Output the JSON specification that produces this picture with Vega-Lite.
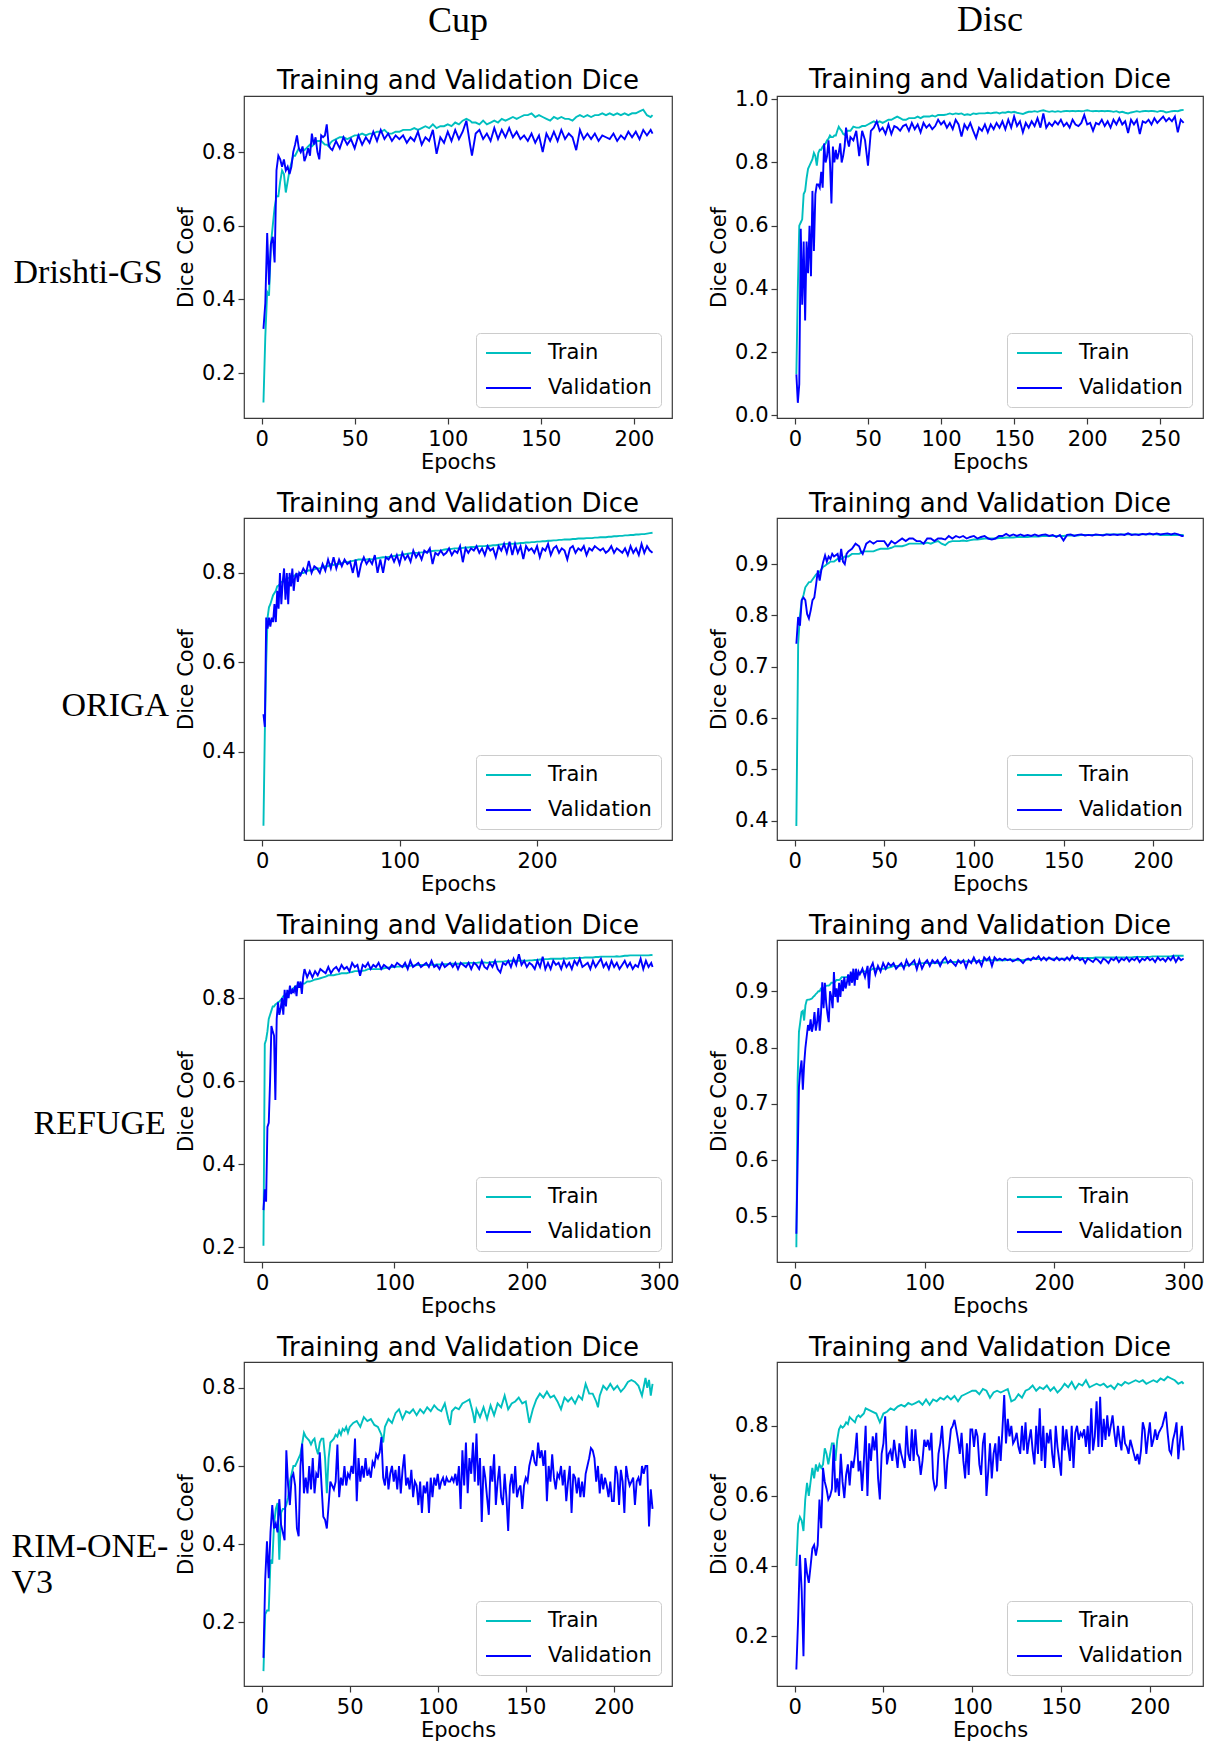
{
"$schema":"https://vega.github.io/schema/vega-lite/v6.json",
"autosize":{"type":"none"},
"padding":{"left":244,"top":96,"right":972,"bottom":1648},
"background":"white",
"config":{
"font":"DejaVu Sans",
"view":{"stroke":"#3a3a3a","strokeWidth":1.2},
"axis":{"domain":false,"grid":false,"labelFont":"DejaVu Sans","labelFontSize":21,"labelColor":"#000","titleFont":"DejaVu Sans","titleFontSize":21,"titleFontWeight":"normal","titleColor":"#000","tickColor":"#3a3a3a","tickSize":6,"tickWidth":1.2,"labelPadding":3,"labelFlush":false},
"axisX":{"titlePadding":2,"labelPadding":4},
"axisY":{"titlePadding":5},
"legend":{"orient":"bottom-right","offset":11,"padding":9,"fillColor":"white","strokeColor":"#cccccc","cornerRadius":4,"symbolType":"M-1,0H3.5","symbolSize":400,"symbolStrokeWidth":2,"labelFont":"DejaVu Sans","labelFontSize":21,"labelColor":"#000","labelOffset":41,"rowPadding":14,"title":null},
"title":{"font":"DejaVu Sans","fontSize":26,"fontWeight":"normal","color":"#000","offset":1,"anchor":"middle","frame":"group"}
},
"datasets":{
"p1":[
{"e":1,"Train":0.12,"Validation":0.32},{"e":2,"Train":0.30,"Validation":0.39},{"e":3,"Train":0.42,"Validation":0.58},{"e":4,"Train":0.41,"Validation":0.44},{"e":5,"Train":0.55,"Validation":0.55},{"e":6,"Train":0.60,"Validation":0.57},{"e":7,"Train":0.65,"Validation":0.50},{"e":8,"Train":0.68,"Validation":0.75},{"e":9,"Train":0.68,"Validation":0.79},{"e":10,"Train":0.72,"Validation":0.78},
{"e":11,"Train":0.75,"Validation":0.76},{"e":12,"Train":0.74,"Validation":0.78},{"e":13,"Train":0.69,"Validation":0.75},{"e":14,"Train":0.72,"Validation":0.76},{"e":15,"Train":0.75,"Validation":0.74},{"e":16,"Train":0.77,"Validation":0.76},{"e":17,"Train":0.79,"Validation":0.80},{"e":18,"Train":0.79,"Validation":0.82},{"e":19,"Train":0.80,"Validation":0.845},{"e":20,"Train":0.81,"Validation":0.81},
{"e":21,"Train":0.80,"Validation":0.80},{"e":22,"Train":0.81,"Validation":0.815},{"e":23,"Train":0.805,"Validation":0.775},{"e":24,"Train":0.81,"Validation":0.79},{"e":25,"Train":0.815,"Validation":0.81},{"e":26,"Train":0.82,"Validation":0.79},{"e":27,"Train":0.815,"Validation":0.85},{"e":28,"Train":0.82,"Validation":0.82},{"e":29,"Train":0.825,"Validation":0.84},{"e":30,"Train":0.83,"Validation":0.80},
{"e":31,"Train":0.83,"Validation":0.78},{"e":32,"Train":0.83,"Validation":0.845},{"e":33,"Train":0.825,"Validation":0.84},{"e":34,"Train":0.82,"Validation":0.845},{"e":35,"Train":0.82,"Validation":0.875},{"e":36,"Train":0.815,"Validation":0.82},{"e":37,"Train":0.825,"Validation":0.81},{"e":38,"Train":0.83,"Validation":0.805},
{"e":40,"Train":0.835,"Validation":0.83},{"e":42,"Train":0.84,"Validation":0.81},{"e":44,"Train":0.84,"Validation":0.84},{"e":46,"Train":0.835,"Validation":0.82},{"e":48,"Train":0.84,"Validation":0.835},{"e":50,"Train":0.845,"Validation":0.81},{"e":52,"Train":0.845,"Validation":0.845},{"e":54,"Train":0.85,"Validation":0.82},{"e":56,"Train":0.845,"Validation":0.84},{"e":58,"Train":0.85,"Validation":0.825},
{"e":60,"Train":0.85,"Validation":0.855},{"e":62,"Train":0.855,"Validation":0.83},{"e":64,"Train":0.855,"Validation":0.86},{"e":66,"Train":0.86,"Validation":0.835},{"e":68,"Train":0.85,"Validation":0.85},{"e":70,"Train":0.85,"Validation":0.83},{"e":72,"Train":0.855,"Validation":0.845},{"e":74,"Train":0.855,"Validation":0.835},{"e":76,"Train":0.86,"Validation":0.845},{"e":78,"Train":0.86,"Validation":0.825},
{"e":80,"Train":0.86,"Validation":0.84},{"e":82,"Train":0.865,"Validation":0.83},{"e":84,"Train":0.86,"Validation":0.855},{"e":86,"Train":0.865,"Validation":0.82},{"e":88,"Train":0.87,"Validation":0.84},{"e":90,"Train":0.865,"Validation":0.83},{"e":92,"Train":0.875,"Validation":0.86},{"e":94,"Train":0.865,"Validation":0.795},{"e":96,"Train":0.87,"Validation":0.84},{"e":98,"Train":0.87,"Validation":0.825},
{"e":100,"Train":0.875,"Validation":0.855},{"e":102,"Train":0.87,"Validation":0.83},{"e":104,"Train":0.88,"Validation":0.86},{"e":106,"Train":0.875,"Validation":0.835},{"e":108,"Train":0.885,"Validation":0.855},{"e":110,"Train":0.89,"Validation":0.885},{"e":112,"Train":0.885,"Validation":0.82},{"e":113,"Train":0.88,"Validation":0.79},{"e":115,"Train":0.88,"Validation":0.85},{"e":117,"Train":0.875,"Validation":0.86},
{"e":119,"Train":0.885,"Validation":0.835},{"e":121,"Train":0.875,"Validation":0.85},{"e":123,"Train":0.88,"Validation":0.83},{"e":125,"Train":0.885,"Validation":0.865},{"e":127,"Train":0.88,"Validation":0.835},{"e":129,"Train":0.89,"Validation":0.86},{"e":131,"Train":0.885,"Validation":0.84},{"e":133,"Train":0.89,"Validation":0.865},{"e":135,"Train":0.895,"Validation":0.84},{"e":137,"Train":0.89,"Validation":0.855},
{"e":139,"Train":0.895,"Validation":0.835},{"e":141,"Train":0.9,"Validation":0.845},{"e":143,"Train":0.9,"Validation":0.83},{"e":145,"Train":0.905,"Validation":0.85},{"e":147,"Train":0.895,"Validation":0.825},{"e":149,"Train":0.9,"Validation":0.845},{"e":151,"Train":0.895,"Validation":0.80},{"e":153,"Train":0.89,"Validation":0.85},{"e":155,"Train":0.885,"Validation":0.83},{"e":157,"Train":0.895,"Validation":0.855},
{"e":159,"Train":0.89,"Validation":0.83},{"e":161,"Train":0.895,"Validation":0.86},{"e":163,"Train":0.89,"Validation":0.835},{"e":165,"Train":0.89,"Validation":0.85},{"e":167,"Train":0.885,"Validation":0.84},{"e":169,"Train":0.895,"Validation":0.805},{"e":171,"Train":0.9,"Validation":0.86},{"e":173,"Train":0.895,"Validation":0.835},{"e":175,"Train":0.9,"Validation":0.85},{"e":177,"Train":0.895,"Validation":0.835},
{"e":179,"Train":0.9,"Validation":0.85},{"e":181,"Train":0.9,"Validation":0.83},{"e":183,"Train":0.905,"Validation":0.845},{"e":185,"Train":0.9,"Validation":0.84},{"e":187,"Train":0.905,"Validation":0.835},{"e":189,"Train":0.9,"Validation":0.85},{"e":191,"Train":0.905,"Validation":0.83},{"e":193,"Train":0.9,"Validation":0.845},{"e":195,"Train":0.905,"Validation":0.835},{"e":197,"Train":0.9,"Validation":0.855},
{"e":199,"Train":0.905,"Validation":0.84},{"e":201,"Train":0.905,"Validation":0.855},{"e":203,"Train":0.91,"Validation":0.835},{"e":205,"Train":0.915,"Validation":0.86},{"e":207,"Train":0.9,"Validation":0.845},{"e":209,"Train":0.895,"Validation":0.86},{"e":210,"Train":0.9,"Validation":0.85}
],
"p2":[
{"e":1,"Train":0.13,"Validation":0.13},{"e":2,"Train":0.40,"Validation":0.04},{"e":3,"Train":0.60,"Validation":0.10},{"e":4,"Train":0.61,"Validation":0.59},{"e":5,"Train":0.62,"Validation":0.35},{"e":6,"Train":0.70,"Validation":0.55},{"e":7,"Train":0.71,"Validation":0.30},{"e":8,"Train":0.75,"Validation":0.55},{"e":9,"Train":0.78,"Validation":0.45},{"e":10,"Train":0.79,"Validation":0.60},
{"e":11,"Train":0.80,"Validation":0.44},{"e":12,"Train":0.81,"Validation":0.71},{"e":13,"Train":0.83,"Validation":0.52},{"e":14,"Train":0.82,"Validation":0.70},{"e":15,"Train":0.79,"Validation":0.73},{"e":16,"Train":0.83,"Validation":0.73},{"e":17,"Train":0.84,"Validation":0.72},{"e":18,"Train":0.84,"Validation":0.77},{"e":19,"Train":0.85,"Validation":0.72},{"e":20,"Train":0.855,"Validation":0.86},
{"e":21,"Train":0.86,"Validation":0.80},{"e":22,"Train":0.87,"Validation":0.82},{"e":23,"Train":0.875,"Validation":0.87},{"e":24,"Train":0.885,"Validation":0.80},{"e":25,"Train":0.88,"Validation":0.67},{"e":26,"Train":0.88,"Validation":0.85},{"e":27,"Train":0.885,"Validation":0.80},{"e":28,"Train":0.885,"Validation":0.84},{"e":29,"Train":0.90,"Validation":0.81},{"e":30,"Train":0.913,"Validation":0.83},
{"e":31,"Train":0.905,"Validation":0.86},{"e":32,"Train":0.90,"Validation":0.80},{"e":33,"Train":0.89,"Validation":0.82},{"e":34,"Train":0.887,"Validation":0.85},{"e":35,"Train":0.895,"Validation":0.91},{"e":36,"Train":0.90,"Validation":0.87},{"e":37,"Train":0.90,"Validation":0.85},{"e":38,"Train":0.90,"Validation":0.88},
{"e":40,"Train":0.913,"Validation":0.87},{"e":42,"Train":0.91,"Validation":0.90},{"e":44,"Train":0.91,"Validation":0.82},{"e":46,"Train":0.915,"Validation":0.90},{"e":48,"Train":0.915,"Validation":0.87},{"e":50,"Train":0.92,"Validation":0.79},{"e":52,"Train":0.925,"Validation":0.90},{"e":54,"Train":0.93,"Validation":0.91},{"e":56,"Train":0.925,"Validation":0.93},{"e":58,"Train":0.93,"Validation":0.90},
{"e":60,"Train":0.925,"Validation":0.91},{"e":62,"Train":0.93,"Validation":0.89},{"e":64,"Train":0.935,"Validation":0.92},{"e":66,"Train":0.935,"Validation":0.89},{"e":68,"Train":0.94,"Validation":0.915},{"e":70,"Train":0.945,"Validation":0.91},{"e":72,"Train":0.94,"Validation":0.90},{"e":74,"Train":0.935,"Validation":0.915},{"e":76,"Train":0.935,"Validation":0.92},{"e":78,"Train":0.94,"Validation":0.90},
{"e":80,"Train":0.94,"Validation":0.925},{"e":82,"Train":0.94,"Validation":0.905},{"e":84,"Train":0.945,"Validation":0.92},{"e":86,"Train":0.94,"Validation":0.895},{"e":88,"Train":0.945,"Validation":0.925},{"e":90,"Train":0.945,"Validation":0.91},{"e":92,"Train":0.945,"Validation":0.92},{"e":94,"Train":0.948,"Validation":0.905},{"e":96,"Train":0.945,"Validation":0.915},{"e":98,"Train":0.95,"Validation":0.935},
{"e":100,"Train":0.95,"Validation":0.92},{"e":102,"Train":0.95,"Validation":0.93},{"e":104,"Train":0.952,"Validation":0.91},{"e":106,"Train":0.955,"Validation":0.925},{"e":108,"Train":0.952,"Validation":0.905},{"e":110,"Train":0.955,"Validation":0.935},{"e":112,"Train":0.953,"Validation":0.92},{"e":114,"Train":0.955,"Validation":0.882},{"e":116,"Train":0.95,"Validation":0.92},{"e":118,"Train":0.952,"Validation":0.905},
{"e":120,"Train":0.95,"Validation":0.925},{"e":122,"Train":0.955,"Validation":0.90},{"e":124,"Train":0.953,"Validation":0.877},{"e":126,"Train":0.955,"Validation":0.91},{"e":128,"Train":0.955,"Validation":0.90},{"e":130,"Train":0.955,"Validation":0.92},{"e":132,"Train":0.957,"Validation":0.895},{"e":134,"Train":0.955,"Validation":0.92},{"e":136,"Train":0.957,"Validation":0.905},{"e":138,"Train":0.958,"Validation":0.925},
{"e":140,"Train":0.955,"Validation":0.91},{"e":142,"Train":0.958,"Validation":0.93},{"e":144,"Train":0.957,"Validation":0.905},{"e":146,"Train":0.96,"Validation":0.935},{"e":148,"Train":0.958,"Validation":0.91},{"e":150,"Train":0.96,"Validation":0.945},{"e":152,"Train":0.957,"Validation":0.915},{"e":154,"Train":0.955,"Validation":0.93},{"e":156,"Train":0.953,"Validation":0.895},{"e":158,"Train":0.957,"Validation":0.925},
{"e":160,"Train":0.96,"Validation":0.91},{"e":162,"Train":0.96,"Validation":0.93},{"e":164,"Train":0.962,"Validation":0.915},{"e":166,"Train":0.96,"Validation":0.94},{"e":168,"Train":0.963,"Validation":0.91},{"e":170,"Train":0.965,"Validation":0.955},{"e":172,"Train":0.962,"Validation":0.91},{"e":174,"Train":0.96,"Validation":0.925},{"e":176,"Train":0.962,"Validation":0.915},{"e":178,"Train":0.96,"Validation":0.93},
{"e":180,"Train":0.962,"Validation":0.92},{"e":182,"Train":0.96,"Validation":0.935},{"e":184,"Train":0.962,"Validation":0.915},{"e":186,"Train":0.963,"Validation":0.925},{"e":188,"Train":0.962,"Validation":0.91},{"e":190,"Train":0.963,"Validation":0.935},{"e":192,"Train":0.962,"Validation":0.92},{"e":194,"Train":0.963,"Validation":0.915},{"e":196,"Train":0.962,"Validation":0.925},{"e":198,"Train":0.963,"Validation":0.95},
{"e":200,"Train":0.965,"Validation":0.92},{"e":202,"Train":0.963,"Validation":0.925},{"e":204,"Train":0.962,"Validation":0.90},{"e":206,"Train":0.963,"Validation":0.925},{"e":208,"Train":0.962,"Validation":0.92},{"e":210,"Train":0.963,"Validation":0.935},{"e":212,"Train":0.962,"Validation":0.915},{"e":214,"Train":0.963,"Validation":0.93},{"e":216,"Train":0.962,"Validation":0.91},{"e":218,"Train":0.96,"Validation":0.935},
{"e":220,"Train":0.962,"Validation":0.92},{"e":222,"Train":0.958,"Validation":0.94},{"e":224,"Train":0.96,"Validation":0.92},{"e":226,"Train":0.957,"Validation":0.93},{"e":228,"Train":0.955,"Validation":0.893},{"e":230,"Train":0.958,"Validation":0.935},{"e":232,"Train":0.96,"Validation":0.92},{"e":234,"Train":0.962,"Validation":0.935},{"e":236,"Train":0.96,"Validation":0.89},{"e":238,"Train":0.962,"Validation":0.93},
{"e":240,"Train":0.963,"Validation":0.925},{"e":242,"Train":0.962,"Validation":0.935},{"e":244,"Train":0.963,"Validation":0.92},{"e":246,"Train":0.962,"Validation":0.94},{"e":248,"Train":0.96,"Validation":0.925},{"e":250,"Train":0.963,"Validation":0.935},{"e":252,"Train":0.962,"Validation":0.945},{"e":254,"Train":0.958,"Validation":0.93},{"e":256,"Train":0.96,"Validation":0.94},{"e":258,"Train":0.962,"Validation":0.93},
{"e":260,"Train":0.963,"Validation":0.945},{"e":262,"Train":0.962,"Validation":0.895},{"e":264,"Train":0.965,"Validation":0.935},{"e":266,"Train":0.966,"Validation":0.925}
],
"p3":[
{"e":1,"Train":0.234,"Validation":0.484},{"e":2,"Train":0.443,"Validation":0.455},{"e":3,"Train":0.60,"Validation":0.70},{"e":4,"Train":0.70,"Validation":0.675},{"e":5,"Train":0.723,"Validation":0.70},{"e":6,"Train":0.73,"Validation":0.68},{"e":7,"Train":0.74,"Validation":0.70},{"e":8,"Train":0.75,"Validation":0.69},{"e":9,"Train":0.755,"Validation":0.73},{"e":10,"Train":0.76,"Validation":0.69},
{"e":11,"Train":0.77,"Validation":0.76},{"e":12,"Train":0.772,"Validation":0.72},{"e":13,"Train":0.775,"Validation":0.80},{"e":14,"Train":0.78,"Validation":0.73},{"e":15,"Train":0.78,"Validation":0.78},{"e":16,"Train":0.782,"Validation":0.81},{"e":17,"Train":0.785,"Validation":0.74},{"e":18,"Train":0.786,"Validation":0.80},{"e":19,"Train":0.788,"Validation":0.73},{"e":20,"Train":0.79,"Validation":0.80},
{"e":21,"Train":0.79,"Validation":0.77},{"e":22,"Train":0.792,"Validation":0.81},{"e":23,"Train":0.793,"Validation":0.76},{"e":24,"Train":0.795,"Validation":0.79},{"e":25,"Train":0.796,"Validation":0.80},{"e":26,"Train":0.797,"Validation":0.78},{"e":27,"Train":0.798,"Validation":0.80},{"e":28,"Train":0.80,"Validation":0.795},
{"e":30,"Train":0.80,"Validation":0.81},{"e":32,"Train":0.803,"Validation":0.80},{"e":34,"Train":0.806,"Validation":0.827},{"e":36,"Train":0.805,"Validation":0.80},{"e":38,"Train":0.808,"Validation":0.815},{"e":40,"Train":0.81,"Validation":0.81},{"e":42,"Train":0.81,"Validation":0.80},{"e":44,"Train":0.812,"Validation":0.82},{"e":46,"Train":0.815,"Validation":0.805},{"e":48,"Train":0.815,"Validation":0.83},
{"e":50,"Train":0.82,"Validation":0.81},{"e":52,"Train":0.818,"Validation":0.835},{"e":54,"Train":0.82,"Validation":0.81},{"e":56,"Train":0.82,"Validation":0.83},{"e":58,"Train":0.822,"Validation":0.815},{"e":60,"Train":0.825,"Validation":0.83},{"e":62,"Train":0.824,"Validation":0.82},{"e":64,"Train":0.826,"Validation":0.825},{"e":66,"Train":0.827,"Validation":0.80},{"e":68,"Train":0.828,"Validation":0.83},
{"e":70,"Train":0.83,"Validation":0.79},{"e":72,"Train":0.83,"Validation":0.82},{"e":74,"Train":0.829,"Validation":0.835},{"e":76,"Train":0.83,"Validation":0.82},{"e":78,"Train":0.831,"Validation":0.83},{"e":80,"Train":0.83,"Validation":0.82},{"e":82,"Train":0.832,"Validation":0.84},{"e":84,"Train":0.833,"Validation":0.80},{"e":86,"Train":0.834,"Validation":0.83},{"e":88,"Train":0.835,"Validation":0.80},
{"e":90,"Train":0.835,"Validation":0.835},{"e":92,"Train":0.836,"Validation":0.83},{"e":94,"Train":0.837,"Validation":0.84},{"e":96,"Train":0.838,"Validation":0.825},{"e":98,"Train":0.839,"Validation":0.84},{"e":100,"Train":0.84,"Validation":0.82},{"e":102,"Train":0.841,"Validation":0.845},{"e":104,"Train":0.842,"Validation":0.83},{"e":106,"Train":0.843,"Validation":0.84},{"e":108,"Train":0.844,"Validation":0.825},
{"e":110,"Train":0.845,"Validation":0.85},{"e":112,"Train":0.845,"Validation":0.835},{"e":114,"Train":0.845,"Validation":0.845},{"e":116,"Train":0.846,"Validation":0.83},{"e":118,"Train":0.846,"Validation":0.85},{"e":120,"Train":0.847,"Validation":0.845},{"e":122,"Train":0.848,"Validation":0.855},{"e":124,"Train":0.849,"Validation":0.82},{"e":126,"Train":0.85,"Validation":0.845},{"e":128,"Train":0.85,"Validation":0.84},
{"e":130,"Train":0.85,"Validation":0.85},{"e":132,"Train":0.852,"Validation":0.84},{"e":134,"Train":0.853,"Validation":0.845},{"e":136,"Train":0.853,"Validation":0.855},{"e":138,"Train":0.854,"Validation":0.84},{"e":140,"Train":0.855,"Validation":0.85},{"e":142,"Train":0.855,"Validation":0.845},{"e":144,"Train":0.855,"Validation":0.86},{"e":146,"Train":0.856,"Validation":0.824},{"e":148,"Train":0.857,"Validation":0.855},
{"e":150,"Train":0.857,"Validation":0.845},{"e":152,"Train":0.858,"Validation":0.855},{"e":154,"Train":0.858,"Validation":0.85},{"e":156,"Train":0.859,"Validation":0.86},{"e":158,"Train":0.86,"Validation":0.845},{"e":160,"Train":0.86,"Validation":0.855},{"e":162,"Train":0.86,"Validation":0.84},{"e":164,"Train":0.861,"Validation":0.86},{"e":166,"Train":0.861,"Validation":0.85},{"e":168,"Train":0.862,"Validation":0.855},
{"e":170,"Train":0.862,"Validation":0.835},{"e":172,"Train":0.863,"Validation":0.86},{"e":174,"Train":0.864,"Validation":0.85},{"e":176,"Train":0.865,"Validation":0.865},{"e":178,"Train":0.865,"Validation":0.845},{"e":180,"Train":0.866,"Validation":0.87},{"e":182,"Train":0.865,"Validation":0.84},{"e":184,"Train":0.866,"Validation":0.865},{"e":186,"Train":0.866,"Validation":0.845},{"e":188,"Train":0.867,"Validation":0.86},
{"e":190,"Train":0.867,"Validation":0.831},{"e":192,"Train":0.868,"Validation":0.86},{"e":194,"Train":0.868,"Validation":0.85},{"e":196,"Train":0.869,"Validation":0.855},{"e":198,"Train":0.869,"Validation":0.845},{"e":200,"Train":0.87,"Validation":0.86},{"e":202,"Train":0.87,"Validation":0.835},{"e":204,"Train":0.871,"Validation":0.855},{"e":206,"Train":0.871,"Validation":0.85},{"e":208,"Train":0.872,"Validation":0.865},
{"e":210,"Train":0.872,"Validation":0.84},{"e":212,"Train":0.873,"Validation":0.855},{"e":214,"Train":0.873,"Validation":0.86},{"e":216,"Train":0.874,"Validation":0.845},{"e":218,"Train":0.874,"Validation":0.855},{"e":220,"Train":0.875,"Validation":0.85},{"e":222,"Train":0.875,"Validation":0.83},{"e":224,"Train":0.875,"Validation":0.855},{"e":226,"Train":0.876,"Validation":0.86},{"e":228,"Train":0.876,"Validation":0.845},
{"e":230,"Train":0.877,"Validation":0.855},{"e":232,"Train":0.877,"Validation":0.85},{"e":234,"Train":0.877,"Validation":0.86},{"e":236,"Train":0.878,"Validation":0.84},{"e":238,"Train":0.878,"Validation":0.855},{"e":240,"Train":0.878,"Validation":0.85},{"e":242,"Train":0.879,"Validation":0.86},{"e":244,"Train":0.879,"Validation":0.855},{"e":246,"Train":0.88,"Validation":0.85},{"e":248,"Train":0.88,"Validation":0.855},
{"e":250,"Train":0.88,"Validation":0.845},{"e":252,"Train":0.881,"Validation":0.85},{"e":254,"Train":0.881,"Validation":0.86},{"e":256,"Train":0.882,"Validation":0.845},{"e":258,"Train":0.882,"Validation":0.855},{"e":260,"Train":0.883,"Validation":0.85},{"e":262,"Train":0.883,"Validation":0.845},{"e":264,"Train":0.884,"Validation":0.855},{"e":266,"Train":0.884,"Validation":0.84},{"e":268,"Train":0.885,"Validation":0.86},
{"e":270,"Train":0.885,"Validation":0.845},{"e":272,"Train":0.886,"Validation":0.855},{"e":274,"Train":0.886,"Validation":0.84},{"e":276,"Train":0.887,"Validation":0.865},{"e":278,"Train":0.887,"Validation":0.845},{"e":280,"Train":0.888,"Validation":0.86},{"e":282,"Train":0.889,"Validation":0.85},{"e":284,"Train":0.89,"Validation":0.845}
],
"p4":[
{"e":1,"Train":0.39,"Validation":0.745},{"e":2,"Train":0.745,"Validation":0.797},{"e":3,"Train":0.80,"Validation":0.78},{"e":4,"Train":0.83,"Validation":0.83},{"e":5,"Train":0.84,"Validation":0.835},{"e":6,"Train":0.855,"Validation":0.83},{"e":7,"Train":0.86,"Validation":0.803},{"e":8,"Train":0.865,"Validation":0.794},{"e":9,"Train":0.865,"Validation":0.81},{"e":10,"Train":0.87,"Validation":0.83},
{"e":11,"Train":0.875,"Validation":0.835},{"e":12,"Train":0.88,"Validation":0.86},{"e":13,"Train":0.882,"Validation":0.888},{"e":14,"Train":0.885,"Validation":0.868},{"e":15,"Train":0.89,"Validation":0.89},{"e":16,"Train":0.895,"Validation":0.905},{"e":17,"Train":0.897,"Validation":0.917},{"e":18,"Train":0.90,"Validation":0.905},{"e":19,"Train":0.902,"Validation":0.915},{"e":20,"Train":0.905,"Validation":0.91},
{"e":21,"Train":0.905,"Validation":0.92},{"e":22,"Train":0.905,"Validation":0.915},{"e":24,"Train":0.91,"Validation":0.92},{"e":25,"Train":0.91,"Validation":0.904},{"e":26,"Train":0.91,"Validation":0.93},{"e":27,"Train":0.912,"Validation":0.905},{"e":28,"Train":0.915,"Validation":0.90},{"e":29,"Train":0.915,"Validation":0.92},{"e":30,"Train":0.915,"Validation":0.925},{"e":32,"Train":0.92,"Validation":0.93},
{"e":34,"Train":0.92,"Validation":0.94},{"e":36,"Train":0.92,"Validation":0.935},{"e":37,"Train":0.922,"Validation":0.925},{"e":38,"Train":0.925,"Validation":0.92},{"e":40,"Train":0.925,"Validation":0.94},{"e":42,"Train":0.925,"Validation":0.945},{"e":44,"Train":0.925,"Validation":0.94},{"e":46,"Train":0.928,"Validation":0.945},{"e":48,"Train":0.93,"Validation":0.945},{"e":50,"Train":0.93,"Validation":0.945},
{"e":52,"Train":0.93,"Validation":0.935},{"e":54,"Train":0.932,"Validation":0.945},{"e":56,"Train":0.935,"Validation":0.94},{"e":58,"Train":0.935,"Validation":0.945},{"e":60,"Train":0.935,"Validation":0.95},{"e":62,"Train":0.937,"Validation":0.945},{"e":64,"Train":0.94,"Validation":0.95},{"e":66,"Train":0.94,"Validation":0.95},{"e":68,"Train":0.94,"Validation":0.945},{"e":70,"Train":0.94,"Validation":0.945},
{"e":72,"Train":0.94,"Validation":0.94},{"e":74,"Train":0.942,"Validation":0.95},{"e":76,"Train":0.94,"Validation":0.95},{"e":78,"Train":0.943,"Validation":0.945},{"e":80,"Train":0.945,"Validation":0.95},{"e":82,"Train":0.94,"Validation":0.95},{"e":84,"Train":0.937,"Validation":0.948},{"e":86,"Train":0.943,"Validation":0.955},{"e":88,"Train":0.945,"Validation":0.95},{"e":90,"Train":0.945,"Validation":0.955},
{"e":92,"Train":0.945,"Validation":0.952},{"e":94,"Train":0.946,"Validation":0.955},{"e":96,"Train":0.945,"Validation":0.95},{"e":98,"Train":0.947,"Validation":0.953},{"e":100,"Train":0.948,"Validation":0.955},{"e":102,"Train":0.948,"Validation":0.95},{"e":104,"Train":0.949,"Validation":0.953},{"e":106,"Train":0.95,"Validation":0.955},{"e":108,"Train":0.95,"Validation":0.95},{"e":110,"Train":0.95,"Validation":0.948},
{"e":112,"Train":0.95,"Validation":0.95},{"e":114,"Train":0.951,"Validation":0.955},{"e":116,"Train":0.951,"Validation":0.955},{"e":118,"Train":0.952,"Validation":0.959},{"e":120,"Train":0.952,"Validation":0.955},{"e":122,"Train":0.952,"Validation":0.958},{"e":124,"Train":0.953,"Validation":0.955},{"e":126,"Train":0.953,"Validation":0.958},{"e":128,"Train":0.953,"Validation":0.955},{"e":130,"Train":0.953,"Validation":0.957},
{"e":132,"Train":0.954,"Validation":0.955},{"e":134,"Train":0.954,"Validation":0.958},{"e":136,"Train":0.954,"Validation":0.955},{"e":138,"Train":0.955,"Validation":0.957},{"e":140,"Train":0.955,"Validation":0.958},{"e":142,"Train":0.955,"Validation":0.955},{"e":144,"Train":0.955,"Validation":0.957},{"e":146,"Train":0.955,"Validation":0.953},{"e":148,"Train":0.955,"Validation":0.957},{"e":150,"Train":0.955,"Validation":0.946},
{"e":152,"Train":0.956,"Validation":0.957},{"e":154,"Train":0.956,"Validation":0.958},{"e":156,"Train":0.956,"Validation":0.955},{"e":158,"Train":0.956,"Validation":0.957},{"e":160,"Train":0.957,"Validation":0.958},{"e":162,"Train":0.957,"Validation":0.956},{"e":164,"Train":0.957,"Validation":0.957},{"e":166,"Train":0.957,"Validation":0.956},{"e":168,"Train":0.957,"Validation":0.958},{"e":170,"Train":0.957,"Validation":0.957},
{"e":172,"Train":0.957,"Validation":0.956},{"e":174,"Train":0.958,"Validation":0.958},{"e":176,"Train":0.958,"Validation":0.957},{"e":178,"Train":0.958,"Validation":0.958},{"e":180,"Train":0.958,"Validation":0.957},{"e":182,"Train":0.958,"Validation":0.958},{"e":184,"Train":0.958,"Validation":0.957},{"e":186,"Train":0.958,"Validation":0.96},{"e":188,"Train":0.958,"Validation":0.957},{"e":190,"Train":0.958,"Validation":0.958},
{"e":192,"Train":0.958,"Validation":0.957},{"e":194,"Train":0.958,"Validation":0.959},{"e":196,"Train":0.958,"Validation":0.958},{"e":198,"Train":0.958,"Validation":0.96},{"e":200,"Train":0.958,"Validation":0.958},{"e":202,"Train":0.958,"Validation":0.96},{"e":204,"Train":0.957,"Validation":0.958},{"e":206,"Train":0.957,"Validation":0.959},{"e":208,"Train":0.957,"Validation":0.96},{"e":210,"Train":0.957,"Validation":0.958},
{"e":212,"Train":0.957,"Validation":0.96},{"e":214,"Train":0.957,"Validation":0.958},{"e":216,"Train":0.957,"Validation":0.955},{"e":217,"Train":0.957,"Validation":0.955}
],
"p5":[
{"e":1,"Train":0.204,"Validation":0.29},{"e":2,"Train":0.69,"Validation":0.34},{"e":3,"Train":0.70,"Validation":0.31},{"e":4,"Train":0.72,"Validation":0.49},{"e":5,"Train":0.75,"Validation":0.50},{"e":6,"Train":0.76,"Validation":0.60},{"e":7,"Train":0.77,"Validation":0.733},{"e":8,"Train":0.78,"Validation":0.72},{"e":9,"Train":0.78,"Validation":0.71},{"e":10,"Train":0.785,"Validation":0.555},
{"e":11,"Train":0.787,"Validation":0.75},{"e":12,"Train":0.79,"Validation":0.79},{"e":13,"Train":0.792,"Validation":0.76},{"e":14,"Train":0.795,"Validation":0.775},{"e":15,"Train":0.80,"Validation":0.80},{"e":16,"Train":0.805,"Validation":0.76},{"e":17,"Train":0.807,"Validation":0.82},{"e":18,"Train":0.81,"Validation":0.78},{"e":19,"Train":0.812,"Validation":0.82},{"e":20,"Train":0.815,"Validation":0.80},
{"e":21,"Train":0.817,"Validation":0.83},{"e":22,"Train":0.82,"Validation":0.81},{"e":23,"Train":0.822,"Validation":0.82},{"e":24,"Train":0.825,"Validation":0.815},{"e":25,"Train":0.827,"Validation":0.83},{"e":26,"Train":0.83,"Validation":0.805},{"e":27,"Train":0.83,"Validation":0.84},{"e":28,"Train":0.83,"Validation":0.825},{"e":29,"Train":0.832,"Validation":0.84},{"e":30,"Train":0.835,"Validation":0.81},
{"e":31,"Train":0.835,"Validation":0.85},{"e":32,"Train":0.835,"Validation":0.87},{"e":34,"Train":0.84,"Validation":0.85},{"e":36,"Train":0.84,"Validation":0.865},{"e":38,"Train":0.842,"Validation":0.85},{"e":40,"Train":0.845,"Validation":0.865},{"e":42,"Train":0.846,"Validation":0.855},{"e":44,"Train":0.848,"Validation":0.87},{"e":46,"Train":0.85,"Validation":0.865},{"e":48,"Train":0.852,"Validation":0.86},
{"e":50,"Train":0.855,"Validation":0.875},{"e":52,"Train":0.855,"Validation":0.86},{"e":54,"Train":0.855,"Validation":0.87},{"e":56,"Train":0.857,"Validation":0.875},{"e":58,"Train":0.858,"Validation":0.865},{"e":60,"Train":0.86,"Validation":0.88},{"e":62,"Train":0.86,"Validation":0.87},{"e":64,"Train":0.86,"Validation":0.875},{"e":66,"Train":0.862,"Validation":0.865},{"e":68,"Train":0.863,"Validation":0.885},
{"e":70,"Train":0.865,"Validation":0.875},{"e":72,"Train":0.865,"Validation":0.88},{"e":74,"Train":0.865,"Validation":0.854},{"e":76,"Train":0.866,"Validation":0.88},{"e":78,"Train":0.867,"Validation":0.875},{"e":80,"Train":0.87,"Validation":0.885},{"e":82,"Train":0.87,"Validation":0.87},{"e":84,"Train":0.87,"Validation":0.88},{"e":86,"Train":0.87,"Validation":0.875},{"e":88,"Train":0.87,"Validation":0.885},
{"e":90,"Train":0.87,"Validation":0.87},{"e":92,"Train":0.872,"Validation":0.88},{"e":94,"Train":0.873,"Validation":0.875},{"e":96,"Train":0.874,"Validation":0.87},{"e":98,"Train":0.875,"Validation":0.88},{"e":100,"Train":0.875,"Validation":0.875},{"e":102,"Train":0.876,"Validation":0.885},{"e":104,"Train":0.876,"Validation":0.88},{"e":106,"Train":0.877,"Validation":0.875},{"e":108,"Train":0.877,"Validation":0.885},
{"e":110,"Train":0.878,"Validation":0.87},{"e":112,"Train":0.878,"Validation":0.89},{"e":114,"Train":0.879,"Validation":0.875},{"e":116,"Train":0.879,"Validation":0.88},{"e":118,"Train":0.88,"Validation":0.885},{"e":120,"Train":0.88,"Validation":0.875},{"e":122,"Train":0.88,"Validation":0.88},{"e":124,"Train":0.88,"Validation":0.885},{"e":126,"Train":0.88,"Validation":0.875},{"e":128,"Train":0.881,"Validation":0.89},
{"e":130,"Train":0.88,"Validation":0.875},{"e":132,"Train":0.881,"Validation":0.88},{"e":134,"Train":0.881,"Validation":0.87},{"e":136,"Train":0.882,"Validation":0.885},{"e":138,"Train":0.882,"Validation":0.875},{"e":140,"Train":0.882,"Validation":0.88},{"e":142,"Train":0.883,"Validation":0.885},{"e":144,"Train":0.883,"Validation":0.875},{"e":146,"Train":0.883,"Validation":0.885},{"e":148,"Train":0.883,"Validation":0.87},
{"e":150,"Train":0.883,"Validation":0.885},{"e":152,"Train":0.884,"Validation":0.88},{"e":154,"Train":0.884,"Validation":0.875},{"e":156,"Train":0.885,"Validation":0.885},{"e":158,"Train":0.885,"Validation":0.87},{"e":160,"Train":0.885,"Validation":0.885},{"e":162,"Train":0.885,"Validation":0.88},{"e":164,"Train":0.886,"Validation":0.87},{"e":166,"Train":0.886,"Validation":0.89},{"e":168,"Train":0.886,"Validation":0.875},
{"e":170,"Train":0.885,"Validation":0.87},{"e":172,"Train":0.886,"Validation":0.885},{"e":174,"Train":0.887,"Validation":0.875},{"e":176,"Train":0.887,"Validation":0.89},{"e":178,"Train":0.888,"Validation":0.87},{"e":180,"Train":0.888,"Validation":0.862},{"e":182,"Train":0.888,"Validation":0.885},{"e":184,"Train":0.889,"Validation":0.88},{"e":186,"Train":0.889,"Validation":0.89},{"e":188,"Train":0.89,"Validation":0.875},
{"e":190,"Train":0.89,"Validation":0.895},{"e":192,"Train":0.89,"Validation":0.88},{"e":194,"Train":0.89,"Validation":0.906},{"e":196,"Train":0.89,"Validation":0.88},{"e":198,"Train":0.89,"Validation":0.89},{"e":200,"Train":0.89,"Validation":0.875},{"e":202,"Train":0.891,"Validation":0.885},{"e":204,"Train":0.891,"Validation":0.88},{"e":206,"Train":0.892,"Validation":0.87},{"e":208,"Train":0.892,"Validation":0.89},
{"e":210,"Train":0.893,"Validation":0.875},{"e":212,"Train":0.893,"Validation":0.90},{"e":214,"Train":0.894,"Validation":0.87},{"e":216,"Train":0.894,"Validation":0.885},{"e":218,"Train":0.895,"Validation":0.87},{"e":220,"Train":0.895,"Validation":0.89},{"e":222,"Train":0.895,"Validation":0.88},{"e":224,"Train":0.895,"Validation":0.885},{"e":226,"Train":0.895,"Validation":0.87},{"e":228,"Train":0.896,"Validation":0.89},
{"e":230,"Train":0.895,"Validation":0.875},{"e":232,"Train":0.896,"Validation":0.885},{"e":234,"Train":0.896,"Validation":0.87},{"e":236,"Train":0.897,"Validation":0.89},{"e":238,"Train":0.897,"Validation":0.88},{"e":240,"Train":0.897,"Validation":0.895},{"e":242,"Train":0.897,"Validation":0.875},{"e":244,"Train":0.898,"Validation":0.88},{"e":246,"Train":0.898,"Validation":0.885},{"e":248,"Train":0.898,"Validation":0.87},
{"e":250,"Train":0.898,"Validation":0.89},{"e":252,"Train":0.899,"Validation":0.875},{"e":254,"Train":0.899,"Validation":0.885},{"e":256,"Train":0.90,"Validation":0.895},{"e":258,"Train":0.90,"Validation":0.875},{"e":260,"Train":0.90,"Validation":0.885},{"e":262,"Train":0.90,"Validation":0.87},{"e":264,"Train":0.90,"Validation":0.89},{"e":266,"Train":0.90,"Validation":0.875},{"e":268,"Train":0.901,"Validation":0.885},
{"e":270,"Train":0.90,"Validation":0.87},{"e":272,"Train":0.901,"Validation":0.88},{"e":274,"Train":0.902,"Validation":0.89},{"e":276,"Train":0.902,"Validation":0.875},{"e":278,"Train":0.903,"Validation":0.885},{"e":280,"Train":0.903,"Validation":0.87},{"e":282,"Train":0.903,"Validation":0.88},{"e":284,"Train":0.903,"Validation":0.875},{"e":286,"Train":0.903,"Validation":0.895},{"e":288,"Train":0.903,"Validation":0.87},
{"e":290,"Train":0.903,"Validation":0.89},{"e":292,"Train":0.903,"Validation":0.875},{"e":294,"Train":0.904,"Validation":0.885},{"e":295,"Train":0.903,"Validation":0.875}
],
"p6":[
{"e":1,"Train":0.445,"Validation":0.469},{"e":2,"Train":0.745,"Validation":0.60},{"e":3,"Train":0.828,"Validation":0.73},{"e":4,"Train":0.845,"Validation":0.76},{"e":5,"Train":0.863,"Validation":0.777},{"e":6,"Train":0.865,"Validation":0.725},{"e":7,"Train":0.848,"Validation":0.77},{"e":8,"Train":0.875,"Validation":0.80},{"e":9,"Train":0.884,"Validation":0.82},{"e":10,"Train":0.885,"Validation":0.84},
{"e":11,"Train":0.885,"Validation":0.83},{"e":12,"Train":0.886,"Validation":0.85},{"e":13,"Train":0.887,"Validation":0.828},{"e":14,"Train":0.89,"Validation":0.84},{"e":15,"Train":0.892,"Validation":0.863},{"e":16,"Train":0.895,"Validation":0.83},{"e":17,"Train":0.897,"Validation":0.845},{"e":18,"Train":0.90,"Validation":0.87},{"e":19,"Train":0.90,"Validation":0.83},{"e":20,"Train":0.905,"Validation":0.86},
{"e":21,"Train":0.905,"Validation":0.916},{"e":22,"Train":0.905,"Validation":0.87},{"e":23,"Train":0.907,"Validation":0.915},{"e":24,"Train":0.91,"Validation":0.88},{"e":25,"Train":0.91,"Validation":0.86},{"e":26,"Train":0.91,"Validation":0.845},{"e":27,"Train":0.912,"Validation":0.90},{"e":28,"Train":0.915,"Validation":0.89},{"e":29,"Train":0.915,"Validation":0.87},{"e":30,"Train":0.915,"Validation":0.934},
{"e":31,"Train":0.917,"Validation":0.89},{"e":32,"Train":0.92,"Validation":0.905},{"e":33,"Train":0.92,"Validation":0.88},{"e":34,"Train":0.92,"Validation":0.915},{"e":35,"Train":0.922,"Validation":0.89},{"e":36,"Train":0.925,"Validation":0.92},{"e":37,"Train":0.925,"Validation":0.90},{"e":38,"Train":0.925,"Validation":0.925},{"e":39,"Train":0.925,"Validation":0.905},{"e":40,"Train":0.925,"Validation":0.915},
{"e":41,"Train":0.927,"Validation":0.93},{"e":42,"Train":0.927,"Validation":0.91},{"e":43,"Train":0.928,"Validation":0.935},{"e":44,"Train":0.93,"Validation":0.915},{"e":45,"Train":0.93,"Validation":0.94},{"e":46,"Train":0.93,"Validation":0.91},{"e":47,"Train":0.93,"Validation":0.94},{"e":48,"Train":0.93,"Validation":0.92},{"e":49,"Train":0.932,"Validation":0.935},{"e":50,"Train":0.932,"Validation":0.93},
{"e":52,"Train":0.935,"Validation":0.94},{"e":54,"Train":0.935,"Validation":0.925},{"e":56,"Train":0.935,"Validation":0.945},{"e":57,"Train":0.936,"Validation":0.905},{"e":58,"Train":0.937,"Validation":0.94},{"e":60,"Train":0.94,"Validation":0.95},{"e":62,"Train":0.94,"Validation":0.93},{"e":64,"Train":0.94,"Validation":0.945},{"e":66,"Train":0.94,"Validation":0.935},{"e":68,"Train":0.94,"Validation":0.95},
{"e":70,"Train":0.94,"Validation":0.94},{"e":72,"Train":0.942,"Validation":0.95},{"e":74,"Train":0.943,"Validation":0.945},{"e":76,"Train":0.945,"Validation":0.95},{"e":78,"Train":0.945,"Validation":0.94},{"e":80,"Train":0.945,"Validation":0.945},{"e":82,"Train":0.945,"Validation":0.95},{"e":84,"Train":0.945,"Validation":0.94},{"e":86,"Train":0.946,"Validation":0.955},{"e":88,"Train":0.947,"Validation":0.945},
{"e":90,"Train":0.948,"Validation":0.95},{"e":92,"Train":0.948,"Validation":0.955},{"e":94,"Train":0.948,"Validation":0.939},{"e":96,"Train":0.949,"Validation":0.955},{"e":98,"Train":0.95,"Validation":0.94},{"e":100,"Train":0.95,"Validation":0.95},{"e":102,"Train":0.95,"Validation":0.955},{"e":104,"Train":0.95,"Validation":0.945},{"e":106,"Train":0.95,"Validation":0.955},{"e":108,"Train":0.95,"Validation":0.95},
{"e":110,"Train":0.95,"Validation":0.955},{"e":112,"Train":0.951,"Validation":0.945},{"e":114,"Train":0.951,"Validation":0.955},{"e":116,"Train":0.951,"Validation":0.96},{"e":118,"Train":0.952,"Validation":0.95},{"e":120,"Train":0.952,"Validation":0.955},{"e":122,"Train":0.952,"Validation":0.95},{"e":124,"Train":0.952,"Validation":0.945},{"e":126,"Train":0.953,"Validation":0.955},{"e":128,"Train":0.953,"Validation":0.95},
{"e":130,"Train":0.953,"Validation":0.955},{"e":132,"Train":0.953,"Validation":0.942},{"e":134,"Train":0.953,"Validation":0.955},{"e":136,"Train":0.953,"Validation":0.95},{"e":138,"Train":0.954,"Validation":0.96},{"e":140,"Train":0.954,"Validation":0.95},{"e":142,"Train":0.954,"Validation":0.955},{"e":144,"Train":0.954,"Validation":0.945},{"e":146,"Train":0.955,"Validation":0.96},{"e":148,"Train":0.955,"Validation":0.955},
{"e":150,"Train":0.955,"Validation":0.96},{"e":152,"Train":0.955,"Validation":0.945},{"e":154,"Train":0.955,"Validation":0.96},{"e":156,"Train":0.955,"Validation":0.955},{"e":158,"Train":0.955,"Validation":0.958},{"e":160,"Train":0.955,"Validation":0.955},{"e":162,"Train":0.955,"Validation":0.958},{"e":164,"Train":0.956,"Validation":0.955},{"e":166,"Train":0.956,"Validation":0.957},{"e":168,"Train":0.956,"Validation":0.953},
{"e":170,"Train":0.956,"Validation":0.955},{"e":172,"Train":0.955,"Validation":0.958},{"e":174,"Train":0.955,"Validation":0.955},{"e":176,"Train":0.955,"Validation":0.95},{"e":178,"Train":0.956,"Validation":0.956},{"e":180,"Train":0.956,"Validation":0.958},{"e":182,"Train":0.957,"Validation":0.955},{"e":184,"Train":0.957,"Validation":0.96},{"e":186,"Train":0.957,"Validation":0.957},{"e":188,"Train":0.957,"Validation":0.962},
{"e":190,"Train":0.957,"Validation":0.955},{"e":192,"Train":0.958,"Validation":0.96},{"e":194,"Train":0.958,"Validation":0.955},{"e":196,"Train":0.958,"Validation":0.96},{"e":198,"Train":0.958,"Validation":0.957},{"e":200,"Train":0.958,"Validation":0.955},{"e":202,"Train":0.958,"Validation":0.96},{"e":204,"Train":0.958,"Validation":0.955},{"e":206,"Train":0.958,"Validation":0.958},{"e":208,"Train":0.958,"Validation":0.955},
{"e":210,"Train":0.958,"Validation":0.96},{"e":212,"Train":0.958,"Validation":0.955},{"e":214,"Train":0.959,"Validation":0.963},{"e":216,"Train":0.959,"Validation":0.957},{"e":218,"Train":0.959,"Validation":0.96},{"e":220,"Train":0.959,"Validation":0.955},{"e":222,"Train":0.959,"Validation":0.958},{"e":224,"Train":0.959,"Validation":0.95},{"e":226,"Train":0.959,"Validation":0.958},{"e":228,"Train":0.959,"Validation":0.955},
{"e":230,"Train":0.959,"Validation":0.952},{"e":232,"Train":0.96,"Validation":0.958},{"e":234,"Train":0.96,"Validation":0.955},{"e":236,"Train":0.96,"Validation":0.95},{"e":238,"Train":0.96,"Validation":0.958},{"e":240,"Train":0.96,"Validation":0.955},{"e":242,"Train":0.96,"Validation":0.95},{"e":244,"Train":0.96,"Validation":0.958},{"e":246,"Train":0.96,"Validation":0.955},{"e":248,"Train":0.96,"Validation":0.96},
{"e":250,"Train":0.96,"Validation":0.952},{"e":252,"Train":0.96,"Validation":0.958},{"e":254,"Train":0.96,"Validation":0.955},{"e":256,"Train":0.96,"Validation":0.96},{"e":258,"Train":0.96,"Validation":0.953},{"e":260,"Train":0.96,"Validation":0.958},{"e":262,"Train":0.961,"Validation":0.955},{"e":264,"Train":0.961,"Validation":0.96},{"e":266,"Train":0.961,"Validation":0.952},{"e":268,"Train":0.961,"Validation":0.958},
{"e":270,"Train":0.961,"Validation":0.955},{"e":272,"Train":0.961,"Validation":0.96},{"e":274,"Train":0.961,"Validation":0.955},{"e":276,"Train":0.962,"Validation":0.958},{"e":278,"Train":0.962,"Validation":0.952},{"e":280,"Train":0.962,"Validation":0.96},{"e":282,"Train":0.962,"Validation":0.955},{"e":284,"Train":0.962,"Validation":0.958},{"e":286,"Train":0.962,"Validation":0.953},{"e":288,"Train":0.962,"Validation":0.96},
{"e":290,"Train":0.962,"Validation":0.955},{"e":292,"Train":0.963,"Validation":0.962},{"e":294,"Train":0.963,"Validation":0.952},{"e":296,"Train":0.963,"Validation":0.96},{"e":298,"Train":0.963,"Validation":0.955},{"e":300,"Train":0.963,"Validation":0.958}
],
"p7":[
{"e":1,"Train":0.075,"Validation":0.109},{"e":2,"Train":0.22,"Validation":0.31},{"e":3,"Train":0.23,"Validation":0.407},{"e":4,"Train":0.23,"Validation":0.313},{"e":5,"Train":0.36,"Validation":0.43},{"e":6,"Train":0.35,"Validation":0.50},{"e":7,"Train":0.45,"Validation":0.44},{"e":8,"Train":0.49,"Validation":0.453},{"e":9,"Train":0.505,"Validation":0.43},{"e":10,"Train":0.36,"Validation":0.515},
{"e":11,"Train":0.48,"Validation":0.45},{"e":12,"Train":0.49,"Validation":0.43},{"e":13,"Train":0.49,"Validation":0.41},{"e":14,"Train":0.50,"Validation":0.64},{"e":15,"Train":0.52,"Validation":0.55},{"e":16,"Train":0.56,"Validation":0.50},{"e":17,"Train":0.58,"Validation":0.57},{"e":18,"Train":0.60,"Validation":0.58},{"e":19,"Train":0.60,"Validation":0.55},{"e":20,"Train":0.61,"Validation":0.44},
{"e":21,"Train":0.62,"Validation":0.42},{"e":22,"Train":0.63,"Validation":0.60},{"e":23,"Train":0.657,"Validation":0.657},{"e":24,"Train":0.685,"Validation":0.53},{"e":25,"Train":0.675,"Validation":0.57},{"e":26,"Train":0.67,"Validation":0.53},{"e":27,"Train":0.665,"Validation":0.60},{"e":28,"Train":0.655,"Validation":0.54},{"e":29,"Train":0.665,"Validation":0.62},{"e":30,"Train":0.67,"Validation":0.53},
{"e":31,"Train":0.645,"Validation":0.58},{"e":32,"Train":0.63,"Validation":0.57},{"e":33,"Train":0.66,"Validation":0.635},{"e":34,"Train":0.67,"Validation":0.55},{"e":35,"Train":0.67,"Validation":0.47},{"e":36,"Train":0.62,"Validation":0.462},{"e":37,"Train":0.53,"Validation":0.44},{"e":38,"Train":0.62,"Validation":0.50},{"e":39,"Train":0.66,"Validation":0.56},{"e":40,"Train":0.665,"Validation":0.55},
{"e":41,"Train":0.67,"Validation":0.54},{"e":42,"Train":0.68,"Validation":0.56},{"e":43,"Train":0.675,"Validation":0.655},{"e":44,"Train":0.69,"Validation":0.52},{"e":45,"Train":0.68,"Validation":0.57},{"e":46,"Train":0.695,"Validation":0.55},{"e":47,"Train":0.69,"Validation":0.60},{"e":48,"Train":0.70,"Validation":0.55},{"e":49,"Train":0.685,"Validation":0.58},{"e":50,"Train":0.70,"Validation":0.57},
{"e":51,"Validation":0.60},{"e":52,"Train":0.71,"Validation":0.58},{"e":53,"Validation":0.67},{"e":54,"Train":0.715,"Validation":0.51},{"e":55,"Validation":0.62},{"e":56,"Train":0.70,"Validation":0.56},{"e":57,"Validation":0.60},{"e":58,"Train":0.725,"Validation":0.57},{"e":59,"Validation":0.62},{"e":60,"Train":0.715,"Validation":0.575},
{"e":61,"Validation":0.59},{"e":62,"Train":0.72,"Validation":0.57},{"e":63,"Validation":0.61},{"e":64,"Train":0.705,"Validation":0.60},{"e":65,"Validation":0.63},{"e":66,"Train":0.70,"Validation":0.62},{"e":67,"Validation":0.635},{"e":68,"Train":0.68,"Validation":0.674},{"e":69,"Train":0.66,"Validation":0.57},{"e":70,"Train":0.70,"Validation":0.55},
{"e":71,"Validation":0.60},{"e":72,"Train":0.72,"Validation":0.54},{"e":73,"Validation":0.58},{"e":74,"Train":0.71,"Validation":0.60},{"e":75,"Validation":0.56},{"e":76,"Train":0.735,"Validation":0.59},{"e":77,"Validation":0.54},{"e":78,"Train":0.745,"Validation":0.60},{"e":79,"Validation":0.53},{"e":80,"Train":0.72,"Validation":0.59},
{"e":81,"Validation":0.63},{"e":82,"Train":0.74,"Validation":0.55},{"e":83,"Validation":0.57},{"e":84,"Train":0.735,"Validation":0.54},{"e":85,"Validation":0.59},{"e":86,"Train":0.745,"Validation":0.52},{"e":87,"Validation":0.56},{"e":88,"Train":0.73,"Validation":0.55},{"e":89,"Validation":0.50},{"e":90,"Train":0.745,"Validation":0.56},
{"e":91,"Validation":0.48},{"e":92,"Train":0.735,"Validation":0.55},{"e":93,"Validation":0.53},{"e":94,"Train":0.75,"Validation":0.56},{"e":95,"Validation":0.48},{"e":96,"Train":0.74,"Validation":0.57},{"e":97,"Validation":0.52},{"e":98,"Train":0.755,"Validation":0.57},{"e":99,"Validation":0.55},{"e":100,"Train":0.745,"Validation":0.58},
{"e":101,"Validation":0.54},{"e":102,"Train":0.74,"Validation":0.56},{"e":103,"Validation":0.57},{"e":104,"Train":0.76,"Validation":0.55},{"e":105,"Validation":0.57},{"e":106,"Train":0.72,"Validation":0.56},{"e":107,"Train":0.705,"Validation":0.56},{"e":108,"Train":0.74,"Validation":0.57},{"e":109,"Validation":0.56},{"e":110,"Train":0.75,"Validation":0.58},
{"e":111,"Validation":0.55},{"e":112,"Train":0.745,"Validation":0.60},{"e":113,"Validation":0.49},{"e":114,"Train":0.76,"Validation":0.64},{"e":115,"Validation":0.55},{"e":116,"Train":0.765,"Validation":0.66},{"e":117,"Validation":0.53},{"e":118,"Train":0.77,"Validation":0.62},{"e":119,"Validation":0.58},{"e":120,"Train":0.735,"Validation":0.66},
{"e":121,"Train":0.71,"Validation":0.56},{"e":122,"Train":0.745,"Validation":0.683},{"e":123,"Validation":0.55},{"e":124,"Train":0.725,"Validation":0.62},{"e":125,"Validation":0.457},{"e":126,"Train":0.75,"Validation":0.60},{"e":127,"Validation":0.57},{"e":128,"Train":0.72,"Validation":0.52},{"e":129,"Validation":0.475},{"e":130,"Train":0.755,"Validation":0.60},
{"e":131,"Validation":0.56},{"e":132,"Train":0.73,"Validation":0.63},{"e":133,"Validation":0.50},{"e":134,"Train":0.76,"Validation":0.56},{"e":135,"Validation":0.60},{"e":136,"Train":0.75,"Validation":0.52},{"e":137,"Validation":0.50},{"e":138,"Train":0.78,"Validation":0.58},{"e":139,"Validation":0.52},{"e":140,"Train":0.745,"Validation":0.434},
{"e":141,"Validation":0.55},{"e":142,"Train":0.76,"Validation":0.58},{"e":143,"Validation":0.53},{"e":144,"Train":0.765,"Validation":0.60},{"e":145,"Validation":0.52},{"e":146,"Train":0.775,"Validation":0.54},{"e":147,"Validation":0.55},{"e":148,"Train":0.76,"Validation":0.49},{"e":149,"Validation":0.55},{"e":150,"Train":0.765,"Validation":0.57},
{"e":151,"Validation":0.56},{"e":152,"Train":0.71,"Validation":0.60},{"e":153,"Validation":0.62},{"e":154,"Train":0.745,"Validation":0.64},{"e":155,"Validation":0.61},{"e":156,"Train":0.77,"Validation":0.60},{"e":157,"Validation":0.66},{"e":158,"Train":0.785,"Validation":0.62},{"e":159,"Validation":0.64},{"e":160,"Train":0.775,"Validation":0.60},
{"e":161,"Validation":0.64},{"e":162,"Train":0.79,"Validation":0.51},{"e":163,"Validation":0.60},{"e":164,"Train":0.775,"Validation":0.56},{"e":165,"Validation":0.63},{"e":166,"Train":0.78,"Validation":0.57},{"e":167,"Validation":0.54},{"e":168,"Train":0.765,"Validation":0.58},{"e":169,"Validation":0.57},{"e":170,"Train":0.745,"Validation":0.60},
{"e":171,"Validation":0.55},{"e":172,"Train":0.775,"Validation":0.59},{"e":173,"Validation":0.51},{"e":174,"Train":0.765,"Validation":0.56},{"e":175,"Validation":0.60},{"e":176,"Train":0.775,"Validation":0.48},{"e":177,"Validation":0.58},{"e":178,"Train":0.76,"Validation":0.57},{"e":179,"Validation":0.53},{"e":180,"Train":0.78,"Validation":0.57},
{"e":181,"Validation":0.52},{"e":182,"Train":0.77,"Validation":0.56},{"e":183,"Validation":0.52},{"e":184,"Train":0.81,"Validation":0.58},{"e":185,"Validation":0.60},{"e":186,"Train":0.785,"Validation":0.62},{"e":187,"Validation":0.646},{"e":188,"Train":0.785,"Validation":0.64},{"e":189,"Validation":0.62},{"e":190,"Train":0.765,"Validation":0.56},
{"e":191,"Train":0.75,"Validation":0.60},{"e":192,"Train":0.78,"Validation":0.53},{"e":193,"Validation":0.58},{"e":194,"Train":0.805,"Validation":0.54},{"e":195,"Validation":0.57},{"e":196,"Train":0.795,"Validation":0.55},{"e":197,"Validation":0.52},{"e":198,"Train":0.81,"Validation":0.56},{"e":199,"Validation":0.51},{"e":200,"Train":0.795,"Validation":0.51},
{"e":201,"Validation":0.60},{"e":202,"Train":0.805,"Validation":0.58},{"e":203,"Validation":0.50},{"e":204,"Train":0.79,"Validation":0.59},{"e":205,"Validation":0.56},{"e":206,"Train":0.80,"Validation":0.48},{"e":207,"Validation":0.60},{"e":208,"Train":0.815,"Validation":0.57},{"e":209,"Validation":0.55},{"e":210,"Train":0.82,"Validation":0.56},
{"e":211,"Validation":0.57},{"e":212,"Train":0.815,"Validation":0.50},{"e":213,"Validation":0.56},{"e":214,"Train":0.805,"Validation":0.57},{"e":215,"Validation":0.55},{"e":216,"Train":0.78,"Validation":0.60},{"e":217,"Validation":0.58},{"e":218,"Train":0.825,"Validation":0.60},{"e":219,"Train":0.80,"Validation":0.60},{"e":220,"Train":0.82,"Validation":0.445},
{"e":221,"Train":0.78,"Validation":0.54},{"e":222,"Train":0.81,"Validation":0.49}
],
"p8":[
{"e":1,"Train":0.40,"Validation":0.105},{"e":2,"Train":0.52,"Validation":0.25},{"e":3,"Train":0.54,"Validation":0.432},{"e":4,"Train":0.53,"Validation":0.33},{"e":5,"Train":0.50,"Validation":0.143},{"e":6,"Train":0.59,"Validation":0.423},{"e":7,"Train":0.637,"Validation":0.38},{"e":8,"Train":0.60,"Validation":0.352},{"e":9,"Train":0.64,"Validation":0.40},{"e":10,"Train":0.68,"Validation":0.45},
{"e":11,"Train":0.65,"Validation":0.46},{"e":12,"Train":0.69,"Validation":0.43},{"e":13,"Train":0.67,"Validation":0.46},{"e":14,"Train":0.69,"Validation":0.59},{"e":15,"Train":0.68,"Validation":0.508},{"e":16,"Train":0.69,"Validation":0.68},{"e":17,"Train":0.736,"Validation":0.64},{"e":18,"Train":0.72,"Validation":0.62},{"e":19,"Train":0.69,"Validation":0.59},{"e":20,"Train":0.72,"Validation":0.60},
{"e":21,"Train":0.75,"Validation":0.62},{"e":22,"Train":0.75,"Validation":0.746},{"e":23,"Train":0.70,"Validation":0.61},{"e":24,"Train":0.76,"Validation":0.65},{"e":25,"Train":0.79,"Validation":0.60},{"e":26,"Train":0.80,"Validation":0.72},{"e":27,"Train":0.795,"Validation":0.64},{"e":28,"Train":0.80,"Validation":0.594},{"e":29,"Train":0.81,"Validation":0.66},{"e":30,"Train":0.805,"Validation":0.69},
{"e":31,"Train":0.825,"Validation":0.63},{"e":32,"Train":0.82,"Validation":0.70},{"e":33,"Train":0.815,"Validation":0.68},{"e":34,"Train":0.81,"Validation":0.72},{"e":35,"Train":0.825,"Validation":0.78},{"e":36,"Train":0.83,"Validation":0.67},{"e":37,"Train":0.825,"Validation":0.70},{"e":38,"Train":0.83,"Validation":0.614},{"e":39,"Train":0.835,"Validation":0.70},{"e":40,"Train":0.85,"Validation":0.80},
{"e":41,"Validation":0.60},{"e":42,"Train":0.845,"Validation":0.75},{"e":43,"Validation":0.70},{"e":44,"Train":0.84,"Validation":0.77},{"e":45,"Validation":0.73},{"e":46,"Train":0.835,"Validation":0.78},{"e":47,"Validation":0.65},{"e":48,"Train":0.81,"Validation":0.59},{"e":49,"Validation":0.72},{"e":50,"Train":0.835,"Validation":0.75},
{"e":51,"Validation":0.827},{"e":52,"Train":0.84,"Validation":0.69},{"e":53,"Validation":0.72},{"e":54,"Train":0.85,"Validation":0.73},{"e":55,"Validation":0.70},{"e":56,"Train":0.845,"Validation":0.76},{"e":57,"Validation":0.72},{"e":58,"Train":0.855,"Validation":0.68},{"e":59,"Validation":0.75},{"e":60,"Train":0.86,"Validation":0.72},
{"e":61,"Validation":0.70},{"e":62,"Train":0.855,"Validation":0.68},{"e":63,"Validation":0.80},{"e":64,"Train":0.865,"Validation":0.72},{"e":65,"Validation":0.70},{"e":66,"Train":0.86,"Validation":0.79},{"e":67,"Validation":0.70},{"e":68,"Train":0.865,"Validation":0.79},{"e":69,"Validation":0.72},{"e":70,"Train":0.87,"Validation":0.71},
{"e":71,"Validation":0.66},{"e":72,"Train":0.86,"Validation":0.70},{"e":73,"Validation":0.76},{"e":74,"Train":0.875,"Validation":0.74},{"e":75,"Validation":0.76},{"e":76,"Train":0.86,"Validation":0.73},{"e":77,"Validation":0.78},{"e":78,"Train":0.875,"Validation":0.65},{"e":79,"Validation":0.62},{"e":80,"Train":0.87,"Validation":0.63},
{"e":81,"Validation":0.72},{"e":82,"Train":0.88,"Validation":0.75},{"e":83,"Validation":0.80},{"e":84,"Train":0.875,"Validation":0.72},{"e":85,"Validation":0.62},{"e":86,"Train":0.885,"Validation":0.70},{"e":87,"Validation":0.74},{"e":88,"Train":0.875,"Validation":0.79},{"e":89,"Validation":0.80},{"e":90,"Train":0.885,"Validation":0.817},
{"e":91,"Validation":0.79},{"e":92,"Train":0.87,"Validation":0.76},{"e":93,"Validation":0.72},{"e":94,"Train":0.885,"Validation":0.78},{"e":95,"Validation":0.70},{"e":96,"Train":0.89,"Validation":0.65},{"e":97,"Validation":0.75},{"e":98,"Train":0.895,"Validation":0.66},{"e":99,"Validation":0.79},{"e":100,"Train":0.90,"Validation":0.79},
{"e":101,"Validation":0.74},{"e":102,"Train":0.90,"Validation":0.79},{"e":103,"Validation":0.77},{"e":104,"Train":0.89,"Validation":0.69},{"e":105,"Validation":0.66},{"e":106,"Train":0.905,"Validation":0.75},{"e":107,"Validation":0.78},{"e":108,"Train":0.90,"Validation":0.60},{"e":109,"Validation":0.67},{"e":110,"Train":0.88,"Validation":0.75},
{"e":111,"Validation":0.65},{"e":112,"Train":0.895,"Validation":0.72},{"e":113,"Validation":0.75},{"e":114,"Train":0.90,"Validation":0.67},{"e":115,"Validation":0.77},{"e":116,"Train":0.895,"Validation":0.70},{"e":117,"Validation":0.79},{"e":118,"Train":0.90,"Validation":0.888},{"e":119,"Validation":0.75},{"e":120,"Train":0.905,"Validation":0.82},
{"e":121,"Validation":0.77},{"e":122,"Train":0.87,"Validation":0.80},{"e":123,"Validation":0.75},{"e":124,"Train":0.875,"Validation":0.76},{"e":125,"Validation":0.78},{"e":126,"Train":0.89,"Validation":0.74},{"e":127,"Validation":0.72},{"e":128,"Train":0.88,"Validation":0.80},{"e":129,"Validation":0.73},{"e":130,"Train":0.90,"Validation":0.81},
{"e":131,"Validation":0.72},{"e":132,"Train":0.905,"Validation":0.76},{"e":133,"Validation":0.79},{"e":134,"Train":0.915,"Validation":0.73},{"e":135,"Validation":0.69},{"e":136,"Train":0.90,"Validation":0.80},{"e":137,"Validation":0.72},{"e":138,"Train":0.91,"Validation":0.85},{"e":139,"Validation":0.70},{"e":140,"Train":0.905,"Validation":0.80},
{"e":141,"Validation":0.68},{"e":142,"Train":0.915,"Validation":0.78},{"e":143,"Validation":0.75},{"e":144,"Train":0.90,"Validation":0.79},{"e":145,"Validation":0.72},{"e":146,"Train":0.91,"Validation":0.68},{"e":147,"Validation":0.80},{"e":148,"Train":0.895,"Validation":0.74},{"e":149,"Validation":0.70},{"e":150,"Train":0.905,"Validation":0.658},
{"e":151,"Validation":0.80},{"e":152,"Train":0.92,"Validation":0.73},{"e":153,"Validation":0.79},{"e":154,"Train":0.91,"Validation":0.74},{"e":155,"Validation":0.70},{"e":156,"Train":0.925,"Validation":0.80},{"e":157,"Validation":0.68},{"e":158,"Train":0.905,"Validation":0.78},{"e":159,"Validation":0.80},{"e":160,"Train":0.92,"Validation":0.76},
{"e":161,"Validation":0.78},{"e":162,"Train":0.915,"Validation":0.77},{"e":163,"Validation":0.79},{"e":164,"Train":0.93,"Validation":0.74},{"e":165,"Validation":0.80},{"e":166,"Train":0.91,"Validation":0.72},{"e":167,"Validation":0.85},{"e":168,"Train":0.915,"Validation":0.73},{"e":169,"Validation":0.77},{"e":170,"Train":0.92,"Validation":0.87},
{"e":171,"Validation":0.74},{"e":172,"Train":0.915,"Validation":0.883},{"e":173,"Validation":0.74},{"e":174,"Train":0.92,"Validation":0.82},{"e":175,"Validation":0.76},{"e":176,"Train":0.91,"Validation":0.83},{"e":177,"Validation":0.77},{"e":178,"Train":0.915,"Validation":0.80},{"e":179,"Validation":0.83},{"e":180,"Train":0.905,"Validation":0.78},
{"e":181,"Validation":0.74},{"e":182,"Train":0.92,"Validation":0.80},{"e":183,"Validation":0.76},{"e":184,"Train":0.915,"Validation":0.73},{"e":185,"Validation":0.80},{"e":186,"Train":0.925,"Validation":0.75},{"e":187,"Validation":0.74},{"e":188,"Train":0.92,"Validation":0.72},{"e":189,"Validation":0.76},{"e":190,"Train":0.925,"Validation":0.74},
{"e":191,"Validation":0.72},{"e":192,"Train":0.93,"Validation":0.70},{"e":193,"Validation":0.72},{"e":194,"Train":0.925,"Validation":0.69},{"e":195,"Validation":0.73},{"e":196,"Train":0.93,"Validation":0.81},{"e":197,"Validation":0.79},{"e":198,"Train":0.92,"Validation":0.72},{"e":199,"Validation":0.77},{"e":200,"Train":0.925,"Validation":0.81},
{"e":201,"Validation":0.74},{"e":202,"Train":0.93,"Validation":0.76},{"e":203,"Validation":0.79},{"e":204,"Train":0.925,"Validation":0.76},{"e":205,"Validation":0.78},{"e":206,"Train":0.935,"Validation":0.79},{"e":207,"Validation":0.80},{"e":208,"Train":0.93,"Validation":0.82},{"e":209,"Validation":0.84},{"e":210,"Train":0.94,"Validation":0.78},
{"e":211,"Validation":0.73},{"e":212,"Train":0.935,"Validation":0.72},{"e":213,"Validation":0.76},{"e":214,"Train":0.93,"Validation":0.78},{"e":215,"Validation":0.81},{"e":216,"Train":0.92,"Validation":0.705},{"e":217,"Validation":0.76},{"e":218,"Train":0.925,"Validation":0.80},{"e":219,"Train":0.92,"Validation":0.73}
]
},
"columns":2,
"spacing":{"row":100,"column":105},
"bounds":"flush",
"resolve":{"scale":{"x":"independent","y":"independent","color":"independent"},"legend":{"color":"independent"},"axis":{"x":"independent","y":"independent"}},
"concat":[
{"width":428,"height":322,"title":{"text":"Cup","subtitle":"Training and Validation Dice","font":"Liberation Serif","fontSize":36,"subtitleFont":"DejaVu Sans","subtitleFontSize":26,"subtitleColor":"#000","subtitleFontWeight":"normal","subtitlePadding":28},
"data":{"name":"p1"},"transform":[{"fold":["Train","Validation"],"as":["set","dice"]},{"filter":"isValid(datum.dice)"}],
"resolve":{"scale":{"y":"independent"},"axis":{"y":"independent"}},
"layer":[
{"mark":{"type":"line","strokeWidth":1.9,"clip":true},
"encoding":{"x":{"field":"e","type":"quantitative","scale":{"domain":[-9.45,220.45],"nice":false,"zero":false},"axis":{"values":[0,50,100,150,200],"title":"Epochs"}},
"y":{"field":"dice","type":"quantitative","scale":{"domain":[0.078,0.952],"nice":false,"zero":false},"axis":{"values":[0.2,0.4,0.6,0.8],"format":".1f","title":"Dice Coef"}},
"color":{"field":"set","type":"nominal","scale":{"domain":["Train","Validation"],"range":["#00bfbf","#0000ff"]},"legend":{"title":null}}}},
{"mark":{"type":"line","opacity":0},
"encoding":{"x":{"field":"e","type":"quantitative"},"y":{"field":"dice","type":"quantitative","axis":{"orient":"left","title":"Drishti-GS","labels":false,"ticks":false,"domain":false,"grid":false,"titleAngle":0,"titleAlign":"left","titleBaseline":"middle","titleFont":"Liberation Serif","titleFontSize":34,"titleFontWeight":"normal","titleColor":"#000","titleX":-231,"titleY":176}}}}
]},
{"width":426,"height":322,"title":{"text":"Disc","subtitle":"Training and Validation Dice","offset":-6,"font":"Liberation Serif","fontSize":36,"subtitleFont":"DejaVu Sans","subtitleFontSize":26,"subtitleColor":"#000","subtitleFontWeight":"normal","subtitlePadding":28},
"data":{"name":"p2"},"transform":[{"fold":["Train","Validation"],"as":["set","dice"]},{"filter":"isValid(datum.dice)"}],
"mark":{"type":"line","strokeWidth":1.9,"clip":true},
"encoding":{"x":{"field":"e","type":"quantitative","scale":{"domain":[-12.25,279.25],"nice":false,"zero":false},"axis":{"values":[0,50,100,150,200,250],"title":"Epochs"}},
"y":{"field":"dice","type":"quantitative","scale":{"domain":[-0.008,1.01],"nice":false,"zero":false},"axis":{"values":[0,0.2,0.4,0.6,0.8,1.0],"format":".1f","title":"Dice Coef"}},
"color":{"field":"set","type":"nominal","scale":{"domain":["Train","Validation"],"range":["#00bfbf","#0000ff"]},"legend":{"title":null}}}},
{"width":428,"height":322,"title":"Training and Validation Dice",
"data":{"name":"p3"},"transform":[{"fold":["Train","Validation"],"as":["set","dice"]},{"filter":"isValid(datum.dice)"}],
"resolve":{"scale":{"y":"independent"},"axis":{"y":"independent"}},
"layer":[
{"mark":{"type":"line","strokeWidth":1.9,"clip":true},
"encoding":{"x":{"field":"e","type":"quantitative","scale":{"domain":[-13.15,298.15],"nice":false,"zero":false},"axis":{"values":[0,100,200],"title":"Epochs"}},
"y":{"field":"dice","type":"quantitative","scale":{"domain":[0.202,0.923],"nice":false,"zero":false},"axis":{"values":[0.4,0.6,0.8],"format":".1f","title":"Dice Coef"}},
"color":{"field":"set","type":"nominal","scale":{"domain":["Train","Validation"],"range":["#00bfbf","#0000ff"]},"legend":{"title":null}}}},
{"mark":{"type":"line","opacity":0},
"encoding":{"x":{"field":"e","type":"quantitative"},"y":{"field":"dice","type":"quantitative","axis":{"orient":"left","title":"ORIGA","labels":false,"ticks":false,"domain":false,"grid":false,"titleAngle":0,"titleAlign":"left","titleBaseline":"middle","titleFont":"Liberation Serif","titleFontSize":34,"titleFontWeight":"normal","titleColor":"#000","titleX":-183,"titleY":187}}}}
]},
{"width":426,"height":322,"title":"Training and Validation Dice",
"data":{"name":"p4"},"transform":[{"fold":["Train","Validation"],"as":["set","dice"]},{"filter":"isValid(datum.dice)"}],
"mark":{"type":"line","strokeWidth":1.9,"clip":true},
"encoding":{"x":{"field":"e","type":"quantitative","scale":{"domain":[-9.8,227.8],"nice":false,"zero":false},"axis":{"values":[0,50,100,150,200],"title":"Epochs"}},
"y":{"field":"dice","type":"quantitative","scale":{"domain":[0.3625,0.99],"nice":false,"zero":false},"axis":{"values":[0.4,0.5,0.6,0.7,0.8,0.9],"format":".1f","title":"Dice Coef"}},
"color":{"field":"set","type":"nominal","scale":{"domain":["Train","Validation"],"range":["#00bfbf","#0000ff"]},"legend":{"title":null}}}},
{"width":428,"height":322,"title":"Training and Validation Dice",
"data":{"name":"p5"},"transform":[{"fold":["Train","Validation"],"as":["set","dice"]},{"filter":"isValid(datum.dice)"}],
"resolve":{"scale":{"y":"independent"},"axis":{"y":"independent"}},
"layer":[
{"mark":{"type":"line","strokeWidth":1.9,"clip":true},
"encoding":{"x":{"field":"e","type":"quantitative","scale":{"domain":[-13.7,309.7],"nice":false,"zero":false},"axis":{"values":[0,100,200,300],"title":"Epochs"}},
"y":{"field":"dice","type":"quantitative","scale":{"domain":[0.165,0.94],"nice":false,"zero":false},"axis":{"values":[0.2,0.4,0.6,0.8],"format":".1f","title":"Dice Coef"}},
"color":{"field":"set","type":"nominal","scale":{"domain":["Train","Validation"],"range":["#00bfbf","#0000ff"]},"legend":{"title":null}}}},
{"mark":{"type":"line","opacity":0},
"encoding":{"x":{"field":"e","type":"quantitative"},"y":{"field":"dice","type":"quantitative","axis":{"orient":"left","title":"REFUGE","labels":false,"ticks":false,"domain":false,"grid":false,"titleAngle":0,"titleAlign":"left","titleBaseline":"middle","titleFont":"Liberation Serif","titleFontSize":34,"titleFontWeight":"normal","titleColor":"#000","titleX":-211,"titleY":183}}}}
]},
{"width":426,"height":322,"title":"Training and Validation Dice",
"data":{"name":"p6"},"transform":[{"fold":["Train","Validation"],"as":["set","dice"]},{"filter":"isValid(datum.dice)"}],
"mark":{"type":"line","strokeWidth":1.9,"clip":true},
"encoding":{"x":{"field":"e","type":"quantitative","scale":{"domain":[-13.95,314.95],"nice":false,"zero":false},"axis":{"values":[0,100,200,300],"title":"Epochs"}},
"y":{"field":"dice","type":"quantitative","scale":{"domain":[0.419,0.991],"nice":false,"zero":false},"axis":{"values":[0.5,0.6,0.7,0.8,0.9],"format":".1f","title":"Dice Coef"}},
"color":{"field":"set","type":"nominal","scale":{"domain":["Train","Validation"],"range":["#00bfbf","#0000ff"]},"legend":{"title":null}}}},
{"width":428,"height":324,"title":"Training and Validation Dice",
"data":{"name":"p7"},"transform":[{"fold":["Train","Validation"],"as":["set","dice"]},{"filter":"isValid(datum.dice)"}],
"resolve":{"scale":{"y":"independent"},"axis":{"y":"independent"}},
"layer":[
{"mark":{"type":"line","strokeWidth":1.9,"clip":true},
"encoding":{"x":{"field":"e","type":"quantitative","scale":{"domain":[-10.05,233.05],"nice":false,"zero":false},"axis":{"values":[0,50,100,150,200],"title":"Epochs"}},
"y":{"field":"dice","type":"quantitative","scale":{"domain":[0.037,0.866],"nice":false,"zero":false},"axis":{"values":[0.2,0.4,0.6,0.8],"format":".1f","title":"Dice Coef"}},
"color":{"field":"set","type":"nominal","scale":{"domain":["Train","Validation"],"range":["#00bfbf","#0000ff"]},"legend":{"title":null}}}},
{"mark":{"type":"line","opacity":0},
"encoding":{"x":{"field":"e","type":"quantitative"},"y":{"field":"dice","type":"quantitative","axis":{"orient":"left","title":["RIM-ONE-","V3"],"labels":false,"ticks":false,"domain":false,"grid":false,"titleAngle":0,"titleAlign":"left","titleBaseline":"middle","titleLineHeight":36,"titleFont":"Liberation Serif","titleFontSize":34,"titleFontWeight":"normal","titleColor":"#000","titleX":-233,"titleY":184}}}}
]},
{"width":426,"height":324,"title":"Training and Validation Dice",
"data":{"name":"p8"},"transform":[{"fold":["Train","Validation"],"as":["set","dice"]},{"filter":"isValid(datum.dice)"}],
"mark":{"type":"line","strokeWidth":1.9,"clip":true},
"encoding":{"x":{"field":"e","type":"quantitative","scale":{"domain":[-9.9,229.9],"nice":false,"zero":false},"axis":{"values":[0,50,100,150,200],"title":"Epochs"}},
"y":{"field":"dice","type":"quantitative","scale":{"domain":[0.058,0.982],"nice":false,"zero":false},"axis":{"values":[0.2,0.4,0.6,0.8],"format":".1f","title":"Dice Coef"}},
"color":{"field":"set","type":"nominal","scale":{"domain":["Train","Validation"],"range":["#00bfbf","#0000ff"]},"legend":{"title":null}}}}
]
}
